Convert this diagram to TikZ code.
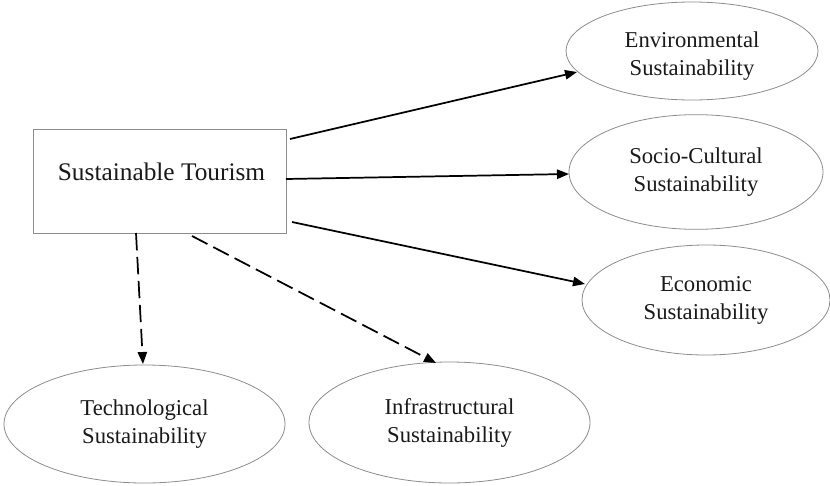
\documentclass[tikz,border=0pt]{standalone}
\usepackage{fontspec}
\setmainfont{Liberation Serif}
\usetikzlibrary{shapes.geometric,arrows.meta}
\begin{document}
\begin{tikzpicture}[x=0.75pt,y=-0.75pt,
  ell/.style={ellipse,draw=black!45,line width=0.6pt,inner sep=0pt,align=center,font=\fontsize{17}{21}\selectfont,text=black!90},
  lbl/.style={inner sep=0pt,align=center,font=\fontsize{17}{21}\selectfont,text=black!90},
  boxst/.style={rectangle,draw=black!45,line width=0.6pt,inner sep=0pt},
  conn/.style={line width=1.3pt,-{Triangle[length=9pt,width=7pt]}},
  dconn/.style={conn,dash pattern=on 13pt off 5pt}]
\useasboundingbox (0,0) rectangle (830,485);
\node[boxst,minimum width=189.75pt,minimum height=78pt] (box) at (159.5,181) {};
\node[font=\fontsize{19}{23}\selectfont,text=black!90] (boxlbl) at (161.5,172) {Sustainable Tourism};
\node[ell,minimum width=189pt,minimum height=73.5pt] (env) at (692,51) {};
\node[lbl] (envlbl) at (692,56) {Environmental\\Sustainability};
\node[ell,minimum width=190.5pt,minimum height=86pt] (soc) at (696,172) {Socio-Cultural\\Sustainability};
\node[ell,minimum width=186pt,minimum height=82.5pt] (eco) at (706,300) {Economic\\Sustainability};
\node[ell,minimum width=210.75pt,minimum height=88.5pt] (tec) at (144.5,424) {Technological\\Sustainability};
\node[ell,minimum width=210.75pt,minimum height=90.75pt] (inf) at (449.5,422.5) {Infrastructural\\Sustainability};
\coordinate (s1) at (290,139);
\coordinate (s2) at (286,179);
\coordinate (s3) at (292,222);
\coordinate (s4) at (136,233);
\coordinate (s5) at (192,236);
\coordinate (t1) at (577,72);
\coordinate (t2) at (569,174);
\coordinate (t3) at (585,284);
\coordinate (t4) at (143,364);
\coordinate (t5) at (436,363);
\draw[conn] (s1) -- (t1);
\draw[conn] (s2) -- (t2);
\draw[conn] (s3) -- (t3);
\draw[dconn] (s4) -- (t4);
\draw[dconn] (s5) -- (t5);
\end{tikzpicture}
\end{document}
